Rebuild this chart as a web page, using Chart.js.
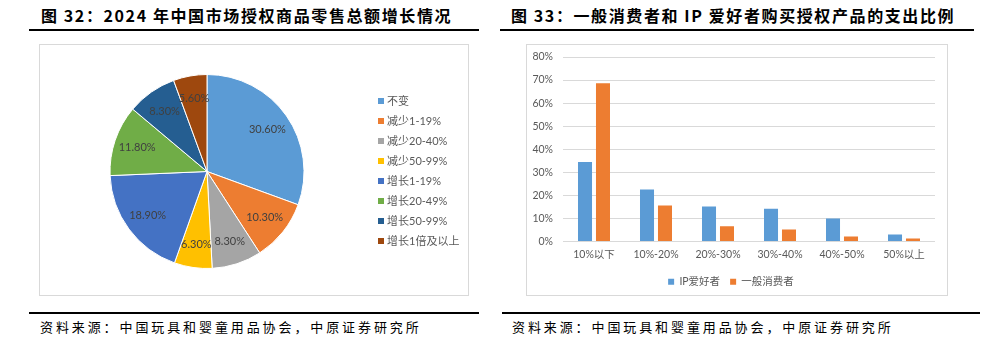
<!DOCTYPE html>
<html>
<head>
<meta charset="utf-8">
<script src="https://cdn.jsdelivr.net/npm/chart.js@4.4.1/dist/chart.umd.min.js"></script>
<style>
  html, body { margin: 0; padding: 0; background: #fff; }
  body { width: 984px; height: 343px; position: relative; overflow: hidden;
         font-family: "Noto Sans CJK SC", sans-serif; }
  .title { position: absolute; top: 4px; font-size: 16px; font-weight: 700; color: #000;
           letter-spacing: 1.6px; line-height: 22px; white-space: nowrap; }
  .rule { position: absolute; height: 2px; background: #000; }
  .frame { position: absolute; top: 44px; height: 252px; border: 1px solid #d9d9d9; box-sizing: border-box; }
  .frame canvas { position: absolute; left: 0; top: 0; }
  .source { position: absolute; top: 318px; font-size: 13px; color: #000; letter-spacing: 2.9px;
            line-height: 18px; white-space: nowrap; }
  #pieLegend { position: absolute; left: 338px; top: 49px; }
  #pieLegend div { position: absolute; left: 0; height: 14px; line-height: 14px; white-space: nowrap;
                   font-family: Lato, "Noto Sans CJK SC", sans-serif; font-size: 11px; color: #595959; }
  #pieLegend span { display: inline-block; width: 6px; height: 6px; margin-right: 3px; vertical-align: 1px; }
</style>
</head>
<body>

<div class="title" style="left:41px">图 32：2024 年中国市场授权商品零售总额增长情况</div>
<div class="rule" style="left:29px; width:450px; top:29px"></div>
<div class="frame" style="left:39px; width:430px">
  <canvas id="pieChart" width="430" height="252"></canvas>
  <div id="pieLegend"></div>
</div>
<div class="rule" style="left:29px; width:450px; top:312px"></div>
<div class="source" style="left:40px">资料来源：中国玩具和婴童用品协会，中原证券研究所</div>

<div class="title" style="left:511px">图 33：一般消费者和 IP 爱好者购买授权产品的支出比例</div>
<div class="rule" style="left:500px; width:474px; top:29px"></div>
<div class="frame" style="left:526px; width:422px">
  <canvas id="barChart" width="422" height="252"></canvas>
</div>
<div class="rule" style="left:502px; width:478px; top:312px"></div>
<div class="source" style="left:512px">资料来源：中国玩具和婴童用品协会，中原证券研究所</div>

<script>
// 图32 零售总额增长情况
const pieLabels = ['不变', '减少1-19%', '减少20-40%', '减少50-99%', '增长1-19%', '增长20-49%', '增长50-99%', '增长1倍及以上'];
const pieValues = [30.6, 10.3, 8.3, 6.3, 18.9, 11.8, 8.3, 5.6];
const pieColors = ['#5b9bd5', '#ed7d31', '#a5a5a5', '#ffc000', '#4472c4', '#70ad47', '#255e91', '#9e480e'];

// 图33 支出比例
const barCategories = ['10%以下', '10%-20%', '20%-30%', '30%-40%', '40%-50%', '50%以上'];
const ipFans = [34.5, 22.6, 15.2, 14.2, 10.0, 3.0];
const consumers = [68.6, 15.6, 6.6, 5.2, 2.2, 1.3];
const seriesNames = ['IP爱好者', '一般消费者'];
const seriesColors = ['#5b9bd5', '#ed7d31'];

const labelFont = 'Lato, "Noto Sans CJK SC", sans-serif';

// 扇区内的百分比标签
const sliceLabels = {
    id: 'sliceLabels',
    afterDatasetsDraw(chart) {
        const ctx = chart.ctx;
        const meta = chart.getDatasetMeta(0);
        ctx.save();
        ctx.font = '11px ' + labelFont;
        ctx.fillStyle = '#404040';
        ctx.textAlign = 'center';
        ctx.textBaseline = 'middle';
        meta.data.forEach((arc, i) => {
            const p = arc.getProps(['x', 'y', 'startAngle', 'endAngle', 'outerRadius'], true);
            const mid = (p.startAngle + p.endAngle) / 2;
            const r = p.outerRadius * 0.76;
            ctx.fillText(pieValues[i].toFixed(2) + '%', p.x + Math.cos(mid) * r, p.y + Math.sin(mid) * r);
        });
        ctx.restore();
    }
};

new Chart(document.getElementById('pieChart'), {
    type: 'pie',
    data: {
        labels: pieLabels,
        datasets: [{
            data: pieValues,
            backgroundColor: pieColors,
            borderColor: '#ffffff',
            borderWidth: 1
        }]
    },
    options: {
        responsive: false,
        animation: false,
        layout: { padding: { left: 69, top: 29, right: 165, bottom: 28 } },
        plugins: {
            legend: { display: false },
            tooltip: { enabled: false }
        }
    },
    plugins: [sliceLabels]
});

// 图例
const legendBox = document.getElementById('pieLegend');
pieLabels.forEach((name, i) => {
    const item = document.createElement('div');
    item.style.top = (i * 20) + 'px';
    item.innerHTML = '<span style="background:' + pieColors[i] + '"></span>' + name;
    legendBox.appendChild(item);
});

new Chart(document.getElementById('barChart'), {
    type: 'bar',
    data: {
        labels: barCategories,
        datasets: [
            { label: seriesNames[0], data: ipFans, backgroundColor: seriesColors[0] },
            { label: seriesNames[1], data: consumers, backgroundColor: seriesColors[1] }
        ]
    },
    options: {
        responsive: false,
        animation: false,
        categoryPercentage: 0.58,
        barPercentage: 0.78,
        layout: { padding: { left: 0, top: 12, right: 14, bottom: 0 } },
        scales: {
            x: {
                grid: { display: false, drawTicks: false },
                border: { display: false },
                ticks: { color: '#595959', font: { family: labelFont, size: 10.5 }, padding: 7, maxRotation: 0 },
                afterFit(scale) { scale.height = 25; }
            },
            y: {
                min: 0,
                max: 80,
                ticks: {
                    stepSize: 10,
                    color: '#595959',
                    font: { family: labelFont, size: 10.5 },
                    padding: 10,
                    callback: v => v + '%'
                },
                grid: { color: '#d9d9d9', drawTicks: false },
                border: { display: false },
                afterFit(scale) {
                    scale.width = 36;
                    scale.paddingTop = 0;
                    scale.paddingBottom = 0;
                }
            }
        },
        plugins: {
            legend: {
                position: 'bottom',
                labels: {
                    boxWidth: 6,
                    boxHeight: 6,
                    padding: 10,
                    color: '#595959',
                    font: { family: labelFont, size: 10.5 }
                }
            },
            tooltip: { enabled: false }
        }
    }
});
</script>
</body>
</html>
